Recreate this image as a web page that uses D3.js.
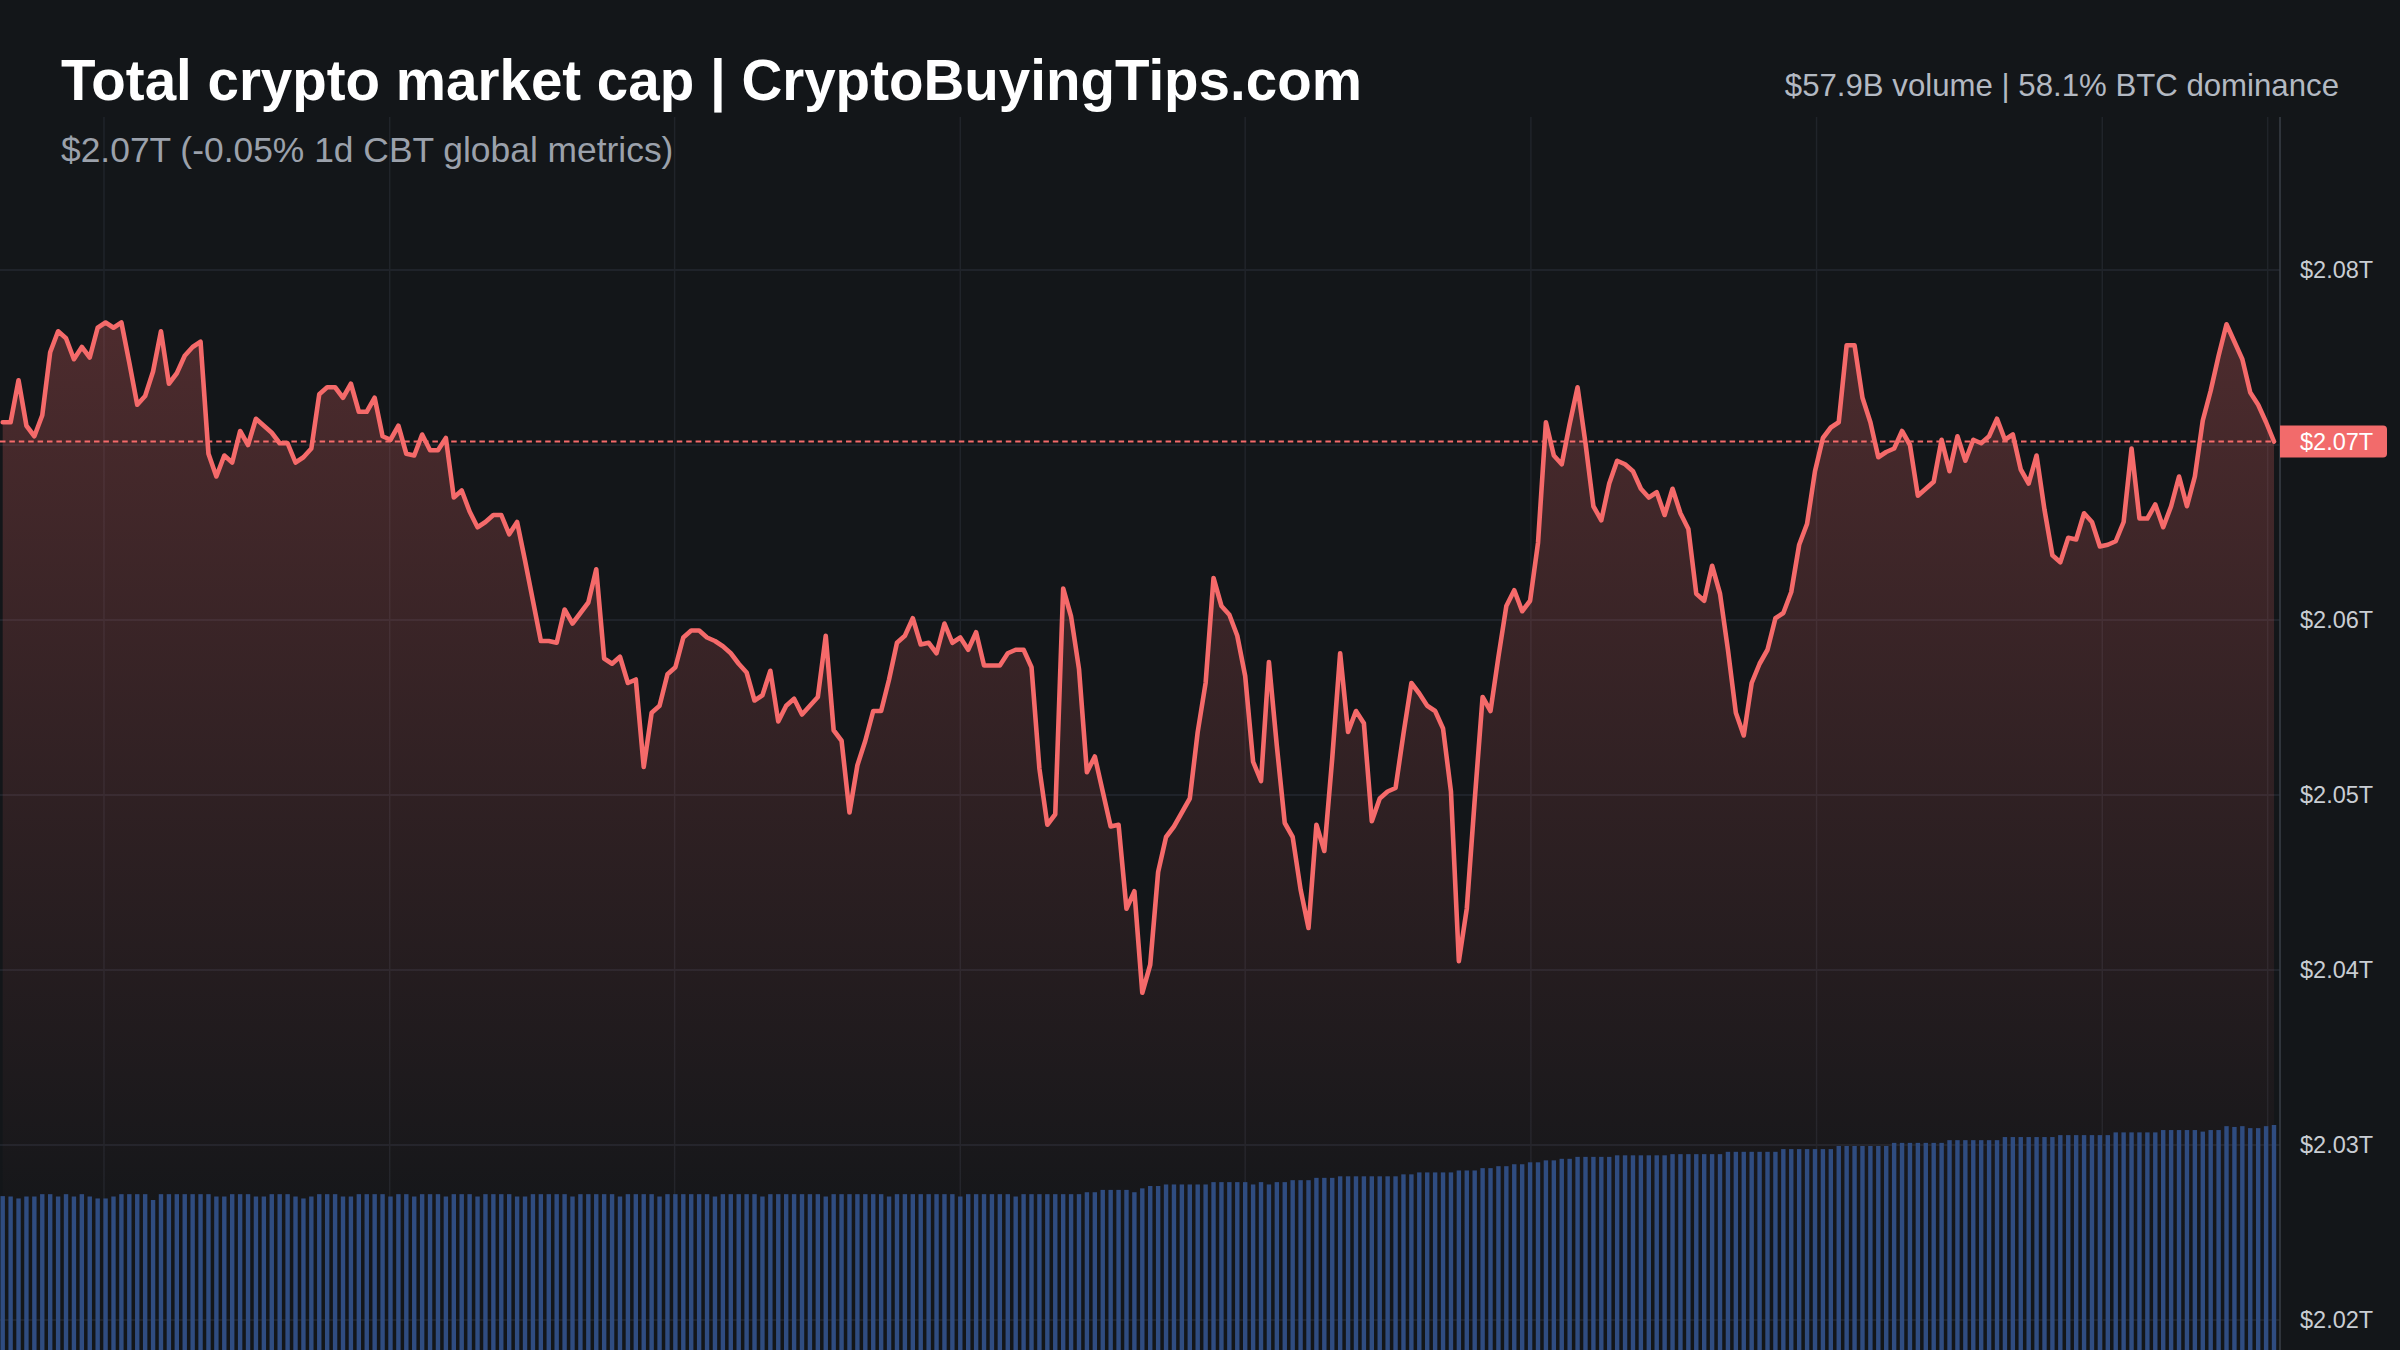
<!DOCTYPE html>
<html><head><meta charset="utf-8">
<script src="https://cdn.jsdelivr.net/npm/d3@7"></script>
<style>html,body{margin:0;padding:0;background:#131619;}svg{display:block}</style>
</head><body><svg id="chart" width="2400" height="1350"></svg>
<script>
const titleText = "Total crypto market cap | CryptoBuyingTips.com";
const subtitleText = "$2.07T (-0.05% 1d CBT global metrics)";
const headerRightText = "$57.9B volume | 58.1% BTC dominance";
const yTickValues = [2020, 2030, 2040, 2050, 2060, 2070, 2080];
const yTickLabels = ["$2.02T", "$2.03T", "$2.04T", "$2.05T", "$2.06T", "$2.07T", "$2.08T"];
const lastPriceLabel = "$2.07T";
const timeGridIdx = [12.8, 48.9, 84.9, 121, 157, 193.1, 229.2, 265.3, 286.2];

// total market cap, billions USD
const marketCap = [
2071.3,2071.3,2073.7,2071.1,2070.5,2071.7,2075.3,2076.5,2076.1,2074.9,
2075.6,2075.0,2076.7,2077.0,2076.7,2077.0,2074.7,2072.3,2072.8,2074.2,
2076.5,2073.5,2074.1,2075.1,2075.6,2075.9,2069.5,2068.2,2069.4,2069.0,
2070.8,2070.0,2071.5,2071.1,2070.7,2070.1,2070.1,2069.0,2069.3,2069.8,
2072.9,2073.3,2073.3,2072.7,2073.5,2071.9,2071.9,2072.7,2070.5,2070.3,
2071.1,2069.5,2069.4,2070.6,2069.7,2069.7,2070.4,2067.0,2067.4,2066.2,
2065.3,2065.6,2066.0,2066.0,2064.9,2065.6,2063.4,2061.1,2058.8,2058.8,
2058.7,2060.6,2059.8,2060.4,2061.0,2062.9,2057.8,2057.5,2057.9,2056.4,
2056.6,2051.6,2054.7,2055.1,2056.9,2057.3,2059.0,2059.4,2059.4,2059.0,
2058.8,2058.5,2058.1,2057.5,2057.0,2055.4,2055.7,2057.1,2054.2,2055.1,
2055.5,2054.6,2055.1,2055.6,2059.1,2053.7,2053.1,2049.0,2051.7,2053.1,
2054.8,2054.8,2056.6,2058.7,2059.1,2060.1,2058.6,2058.7,2058.1,2059.8,
2058.7,2059.0,2058.3,2059.3,2057.4,2057.4,2057.4,2058.1,2058.3,2058.3,
2057.3,2051.5,2048.3,2048.9,2061.8,2060.2,2057.2,2051.3,2052.2,2050.2,
2048.2,2048.3,2043.5,2044.5,2038.7,2040.3,2045.6,2047.6,2048.2,2049.0,
2049.8,2053.6,2056.4,2062.4,2060.8,2060.3,2059.1,2056.8,2051.9,2050.8,
2057.6,2052.8,2048.4,2047.6,2044.6,2042.4,2048.3,2046.8,2052.1,2058.1,
2053.6,2054.8,2054.1,2048.5,2049.8,2050.2,2050.4,2053.5,2056.4,2055.8,
2055.1,2054.8,2053.8,2050.2,2040.5,2043.5,2049.7,2055.6,2054.8,2057.9,
2060.8,2061.7,2060.5,2061.1,2064.4,2071.3,2069.4,2068.9,2071.2,2073.3,
2070.1,2066.5,2065.7,2067.8,2069.1,2068.9,2068.5,2067.5,2067.0,2067.3,
2066.0,2067.5,2066.1,2065.2,2061.5,2061.1,2063.1,2061.5,2058.3,2054.7,
2053.4,2056.4,2057.5,2058.3,2060.1,2060.4,2061.6,2064.3,2065.5,2068.5,
2070.4,2071.0,2071.3,2075.7,2075.7,2072.7,2071.3,2069.3,2069.6,2069.8,
2070.8,2070.0,2067.1,2067.5,2067.9,2070.3,2068.5,2070.5,2069.1,2070.3,
2070.1,2070.5,2071.5,2070.3,2070.6,2068.6,2067.8,2069.4,2066.3,2063.7,
2063.3,2064.7,2064.6,2066.1,2065.6,2064.2,2064.3,2064.5,2065.6,2069.8,
2065.8,2065.8,2066.6,2065.3,2066.5,2068.2,2066.5,2068.2,2071.4,2073.1,
2075.1,2076.9,2075.9,2074.9,2073.0,2072.3,2071.3,2070.2
];

// volume, billions USD
const volume = [
39.6,39.5,39.0,39.5,39.5,40.1,40.1,39.5,40.1,39.5,
40.1,39.5,39.0,39.0,39.5,40.1,40.1,40.1,40.1,38.6,
40.1,40.1,40.1,40.1,40.1,40.1,40.1,39.5,39.5,40.1,
40.1,40.1,39.5,39.5,40.1,40.1,40.1,39.5,39.0,39.5,
40.1,40.1,40.1,39.5,39.5,40.1,40.1,40.1,40.1,39.5,
40.1,40.1,39.5,40.1,40.1,40.1,39.5,40.1,40.1,40.1,
39.5,40.1,40.1,40.1,40.1,39.5,39.5,40.1,40.1,40.1,
40.1,40.1,39.5,40.1,40.1,40.1,40.1,40.1,39.5,40.1,
40.1,40.1,40.1,39.5,40.1,40.1,40.1,40.1,40.1,40.1,
39.5,40.1,40.1,40.1,40.1,40.1,39.5,40.1,40.1,40.1,
40.1,40.1,40.1,40.1,39.5,40.1,40.1,40.1,40.1,40.1,
40.1,40.1,39.5,40.1,40.1,40.1,40.1,40.1,40.1,40.1,
40.1,39.5,40.1,40.1,40.1,40.1,40.1,40.1,39.5,40.1,
40.1,40.1,40.1,40.1,40.1,40.1,40.1,40.6,40.6,41.2,
41.2,41.2,41.2,40.6,41.6,42.2,42.2,42.6,42.6,42.6,
42.6,42.6,42.6,43.2,43.2,43.2,43.2,43.2,42.6,43.2,
42.6,43.2,43.2,43.7,43.7,43.7,44.3,44.3,44.3,44.7,
44.7,44.7,44.7,44.7,44.7,44.7,44.7,45.2,45.2,45.7,
45.7,45.7,45.7,45.7,46.2,46.2,46.2,46.8,46.8,47.3,
47.3,47.8,47.8,48.3,48.3,48.8,48.8,49.2,49.2,49.7,
49.7,49.7,49.7,49.7,50.1,50.1,50.1,50.1,50.1,50.1,
50.1,50.4,50.4,50.4,50.4,50.4,50.4,50.4,51.0,51.0,
51.0,51.0,51.0,51.0,51.0,51.7,51.7,51.7,51.7,51.7,
51.7,51.7,52.5,52.5,52.5,52.5,52.5,52.5,52.5,53.3,
53.3,53.3,53.3,53.3,53.3,53.3,54.0,54.0,54.0,54.0,
54.0,54.0,54.0,54.8,54.8,54.8,54.8,54.8,54.8,54.8,
55.3,55.3,55.3,55.3,55.3,55.3,55.3,56.0,56.0,56.0,
56.0,56.0,56.0,56.6,56.6,56.6,56.6,56.6,56.2,56.6,
56.6,57.6,57.4,57.6,57.1,57.1,57.6,57.9
];

const W = 2400, H = 1350;
const plotRight = 2280, plotTop = 117;
const lineColor = "#f56a6a";
const font = "'Liberation Sans', Arial, Helvetica, sans-serif";

const svg = d3.select("#chart");
svg.append("rect").attr("width", W).attr("height", H).attr("fill", "#131619");

const x = d3.scaleLinear().domain([0, marketCap.length - 1]).range([2.7, 2274]);
const y = d3.scaleLinear().domain([2020, 2080]).range([1320, 270]);
const yVol = d3.scaleLinear().domain([0, 57.9]).range([H, 1125]);

const defs = svg.append("defs");
const grad = defs.append("linearGradient").attr("id", "areaGrad")
  .attr("gradientUnits", "userSpaceOnUse").attr("x1", 0).attr("x2", 0).attr("y1", 320).attr("y2", 1250);
grad.append("stop").attr("offset", 0).attr("stop-color", "#f26868").attr("stop-opacity", 0.26);
grad.append("stop").attr("offset", 1).attr("stop-color", "#f26868").attr("stop-opacity", 0.0);
defs.append("clipPath").attr("id", "plotClip").append("rect")
  .attr("x", 0).attr("y", plotTop).attr("width", plotRight).attr("height", H - plotTop);

// grid
const grid = svg.append("g");
grid.selectAll("line.h").data(yTickValues).join("line")
  .attr("x1", 0).attr("x2", plotRight).attr("y1", d => y(d)).attr("y2", d => y(d))
  .attr("stroke", "#252930").attr("stroke-width", 1.5);
grid.selectAll("line.v").data(timeGridIdx).join("line")
  .attr("x1", d => x(d)).attr("x2", d => x(d)).attr("y1", plotTop).attr("y2", H)
  .attr("stroke", "#20242a").attr("stroke-width", 1.5);

const plot = svg.append("g").attr("clip-path", "url(#plotClip)");

// area
plot.append("path").datum(marketCap)
  .attr("d", d3.area().x((d, i) => x(i)).y0(H).y1(d => y(d)))
  .attr("fill", "url(#areaGrad)");

// volume bars
const bw = 4.4;
plot.selectAll("rect.vol").data(volume).join("rect")
  .attr("x", (d, i) => x(i) - bw / 2).attr("width", bw)
  .attr("y", d => yVol(d)).attr("height", d => H - yVol(d))
  .attr("fill", "#2f4c80");

// last price dashed line
const last = marketCap[marketCap.length - 1];
plot.append("line").attr("x1", 0).attr("x2", x(marketCap.length - 1))
  .attr("y1", y(last)).attr("y2", y(last))
  .attr("stroke", lineColor).attr("stroke-width", 1.8).attr("stroke-dasharray", "5.5,3.9");

// line
plot.append("path").datum(marketCap)
  .attr("d", d3.line().x((d, i) => x(i)).y(d => y(d)))
  .attr("fill", "none").attr("stroke", lineColor).attr("stroke-width", 4.6)
  .attr("stroke-linejoin", "round").attr("stroke-linecap", "round");

// right axis border
svg.append("line").attr("x1", plotRight).attr("x2", plotRight).attr("y1", plotTop).attr("y2", H)
  .attr("stroke", "#3a3f47").attr("stroke-width", 1.5);

// y axis labels
const axis = svg.append("g").attr("transform", `translate(${plotRight},0)`)
  .call(d3.axisRight(y).tickValues(yTickValues).tickFormat((d, i) => yTickLabels[i]).tickSize(0).tickPadding(20));
axis.select(".domain").remove();
axis.selectAll("text").attr("fill", "#c9cdd3").attr("font-size", 23.5).attr("font-family", font);

// price tag
const tag = svg.append("g");
tag.append("path")
  .attr("d", `M${plotRight},${y(last) - 16} H${2383} a4,4 0 0 1 4,4 V${y(last) + 12} a4,4 0 0 1 -4,4 H${plotRight} Z`)
  .attr("fill", "#f26b6b");
tag.append("text").attr("x", 2300).attr("y", y(last)).attr("dy", "0.35em")
  .attr("fill", "#ffffff").attr("font-size", 23.5).attr("font-family", font).text(lastPriceLabel);

// headers
svg.append("text").attr("x", 61).attr("y", 100).attr("fill", "#ffffff")
  .attr("font-size", 56.5).attr("font-weight", "bold").attr("font-family", font).text(titleText);
svg.append("text").attr("x", 61).attr("y", 162).attr("fill", "#9ba1ab")
  .attr("font-size", 35.4).attr("font-family", font).text(subtitleText);
svg.append("text").attr("x", 2339).attr("y", 96).attr("text-anchor", "end").attr("fill", "#b3b9c2")
  .attr("font-size", 31.2).attr("font-family", font).text(headerRightText);
</script>
</body></html>
